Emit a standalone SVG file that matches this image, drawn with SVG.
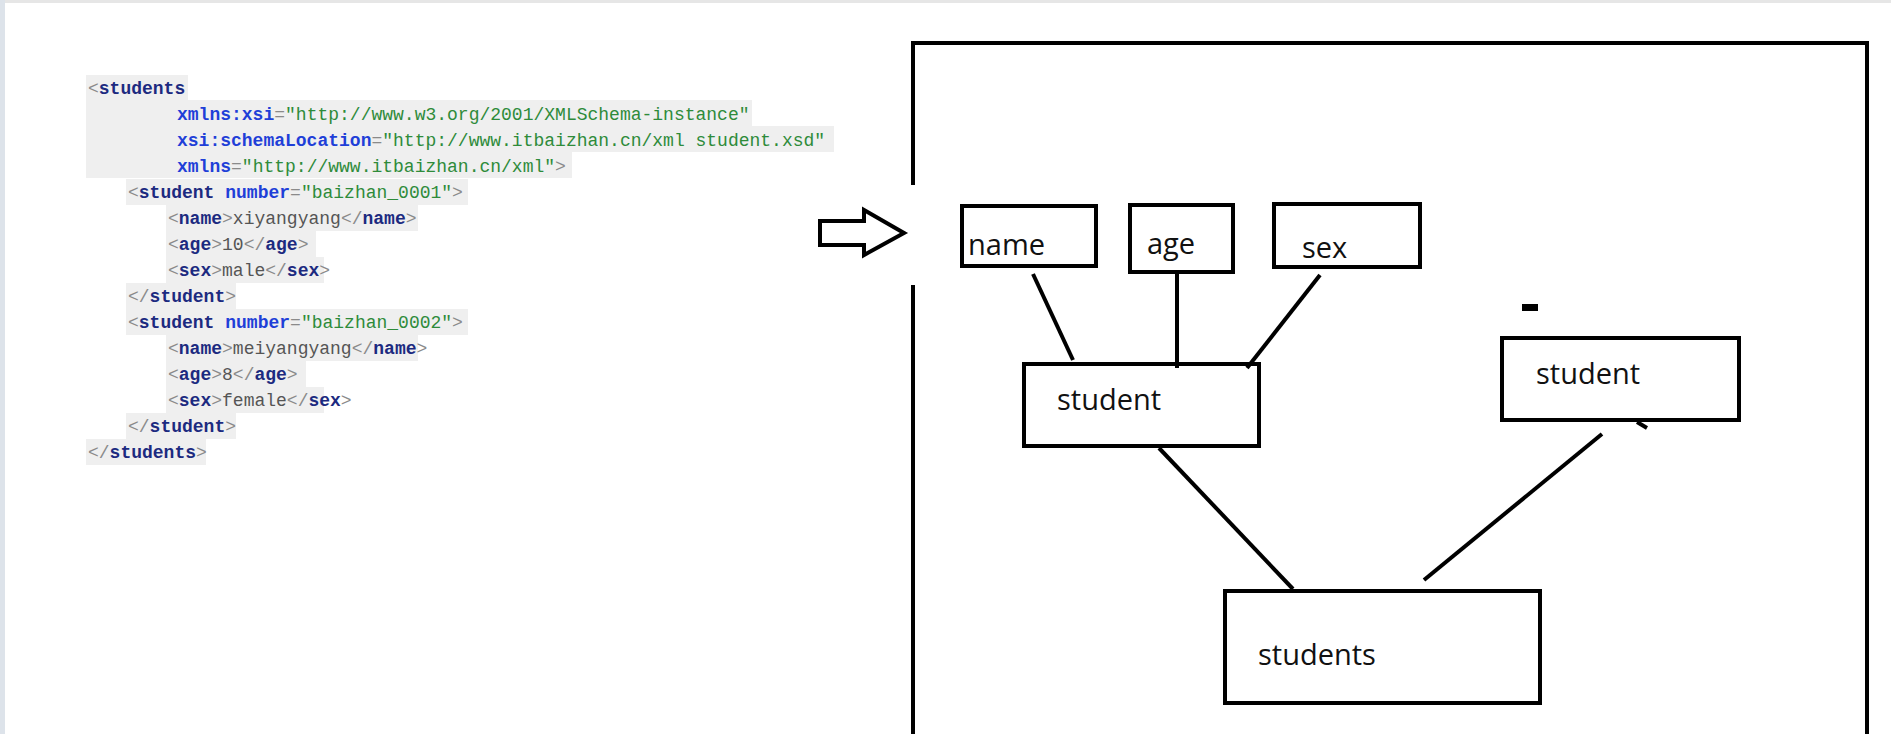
<svg xmlns="http://www.w3.org/2000/svg" width="1891" height="734" viewBox="0 0 1891 734">
<style>
.code{font-family:"Liberation Mono","DejaVu Sans Mono",monospace;font-size:18px;white-space:pre}
.br{fill:#8a8a8a}
.tg{fill:#1c2a80;font-weight:bold}
.at{fill:#1f3fd8;font-weight:bold}
.vl{fill:#2e8b3a}
.tx{fill:#555555}
.hl{fill:#efefef}
.box{fill:#ffffff;stroke:#000000;stroke-width:4}
.lbl{font-family:"Open Sans","Noto Sans","Liberation Sans",sans-serif;font-size:29px;fill:#111111}
.ln{stroke:#000000;stroke-width:4;fill:none}
</style>
<rect x="0" y="0" width="1891" height="734" fill="#ffffff"/>
<rect x="0" y="0" width="1891" height="3" fill="#e6e6e6"/>
<rect x="0" y="0" width="5" height="734" fill="#dde3ea"/>

<g id="code">
<rect class="hl" x="86" y="75" width="102" height="25"/>
<rect class="hl" x="86" y="100" width="666" height="26"/>
<rect class="hl" x="86" y="126" width="748" height="26"/>
<rect class="hl" x="86" y="152" width="486" height="26"/>
<rect class="hl" x="126" y="179" width="342" height="26"/>
<rect class="hl" x="166" y="205" width="252" height="26"/>
<rect class="hl" x="166" y="231" width="150" height="26"/>
<rect class="hl" x="166" y="257" width="158" height="26"/>
<rect class="hl" x="126" y="283" width="110" height="26"/>
<rect class="hl" x="126" y="309" width="342" height="26"/>
<rect class="hl" x="166" y="335" width="252" height="26"/>
<rect class="hl" x="166" y="361" width="140" height="26"/>
<rect class="hl" x="166" y="387" width="158" height="26"/>
<rect class="hl" x="126" y="413" width="110" height="26"/>
<rect class="hl" x="86" y="439" width="120" height="26"/>

<text class="code" x="88" y="94"><tspan class="br">&lt;</tspan><tspan class="tg">students</tspan></text>
<text class="code" x="177" y="120"><tspan class="at">xmlns:xsi</tspan><tspan class="br">=</tspan><tspan class="vl">"http://www.w3.org/2001/XMLSchema-instance"</tspan></text>
<text class="code" x="177" y="146"><tspan class="at">xsi:schemaLocation</tspan><tspan class="br">=</tspan><tspan class="vl">"http://www.itbaizhan.cn/xml student.xsd"</tspan></text>
<text class="code" x="177" y="172"><tspan class="at">xmlns</tspan><tspan class="br">=</tspan><tspan class="vl">"http://www.itbaizhan.cn/xml"</tspan><tspan class="br">&gt;</tspan></text>
<text class="code" x="128" y="198"><tspan class="br">&lt;</tspan><tspan class="tg">student</tspan> <tspan class="at">number</tspan><tspan class="br">=</tspan><tspan class="vl">"baizhan_0001"</tspan><tspan class="br">&gt;</tspan></text>
<text class="code" x="168" y="224"><tspan class="br">&lt;</tspan><tspan class="tg">name</tspan><tspan class="br">&gt;</tspan><tspan class="tx">xiyangyang</tspan><tspan class="br">&lt;/</tspan><tspan class="tg">name</tspan><tspan class="br">&gt;</tspan></text>
<text class="code" x="168" y="250"><tspan class="br">&lt;</tspan><tspan class="tg">age</tspan><tspan class="br">&gt;</tspan><tspan class="tx">10</tspan><tspan class="br">&lt;/</tspan><tspan class="tg">age</tspan><tspan class="br">&gt;</tspan></text>
<text class="code" x="168" y="276"><tspan class="br">&lt;</tspan><tspan class="tg">sex</tspan><tspan class="br">&gt;</tspan><tspan class="tx">male</tspan><tspan class="br">&lt;/</tspan><tspan class="tg">sex</tspan><tspan class="br">&gt;</tspan></text>
<text class="code" x="128" y="302"><tspan class="br">&lt;/</tspan><tspan class="tg">student</tspan><tspan class="br">&gt;</tspan></text>
<text class="code" x="128" y="328"><tspan class="br">&lt;</tspan><tspan class="tg">student</tspan> <tspan class="at">number</tspan><tspan class="br">=</tspan><tspan class="vl">"baizhan_0002"</tspan><tspan class="br">&gt;</tspan></text>
<text class="code" x="168" y="354"><tspan class="br">&lt;</tspan><tspan class="tg">name</tspan><tspan class="br">&gt;</tspan><tspan class="tx">meiyangyang</tspan><tspan class="br">&lt;/</tspan><tspan class="tg">name</tspan><tspan class="br">&gt;</tspan></text>
<text class="code" x="168" y="380"><tspan class="br">&lt;</tspan><tspan class="tg">age</tspan><tspan class="br">&gt;</tspan><tspan class="tx">8</tspan><tspan class="br">&lt;/</tspan><tspan class="tg">age</tspan><tspan class="br">&gt;</tspan></text>
<text class="code" x="168" y="406"><tspan class="br">&lt;</tspan><tspan class="tg">sex</tspan><tspan class="br">&gt;</tspan><tspan class="tx">female</tspan><tspan class="br">&lt;/</tspan><tspan class="tg">sex</tspan><tspan class="br">&gt;</tspan></text>
<text class="code" x="128" y="432"><tspan class="br">&lt;/</tspan><tspan class="tg">student</tspan><tspan class="br">&gt;</tspan></text>
<text class="code" x="88" y="458"><tspan class="br">&lt;/</tspan><tspan class="tg">students</tspan><tspan class="br">&gt;</tspan></text>
</g>

<g id="arrow">
<path d="M820,221 H864 V210 L904,233 L864,255 V245 H820 Z" fill="#ffffff" stroke="#000000" stroke-width="4" stroke-linejoin="miter"/>
</g>

<g id="frame">
<path class="ln" d="M913,185 V43 H1867 V734"/>
<path class="ln" d="M913,285 V734"/>
</g>

<g id="connectors">
<line class="ln" x1="1033" y1="274" x2="1073" y2="360"/>
<line class="ln" x1="1177" y1="273" x2="1177" y2="368"/>
<line class="ln" x1="1320" y1="275" x2="1247" y2="368"/>
<line class="ln" x1="1159" y1="448" x2="1293" y2="589"/>
<line class="ln" x1="1602" y1="434" x2="1424" y2="580"/>
<line class="ln" x1="1637" y1="422" x2="1647" y2="428"/>
</g>

<g id="node-name">
<rect class="box" x="962" y="206" width="134" height="60"/>
<text class="lbl" x="968" y="255">name</text>
</g>
<g id="node-age">
<rect class="box" x="1130" y="205" width="103" height="67"/>
<text class="lbl" x="1147" y="254">age</text>
</g>
<g id="node-sex">
<rect class="box" x="1274" y="204" width="146" height="63"/>
<text class="lbl" x="1302" y="258">sex</text>
</g>
<g id="node-student1">
<rect class="box" x="1024" y="364" width="235" height="82" fill="none" style="fill:none"/>
<text class="lbl" x="1057" y="410">student</text>
</g>
<g id="node-student2">
<rect class="box" x="1502" y="338" width="237" height="82" style="fill:none"/>
<text class="lbl" x="1536" y="384">student</text>
</g>
<g id="node-students">
<rect class="box" x="1225" y="591" width="315" height="112"/>
<text class="lbl" x="1258" y="665">students</text>
</g>
<g id="mark">
<rect x="1522" y="304" width="16" height="7" fill="#000000"/>
</g>
</svg>
